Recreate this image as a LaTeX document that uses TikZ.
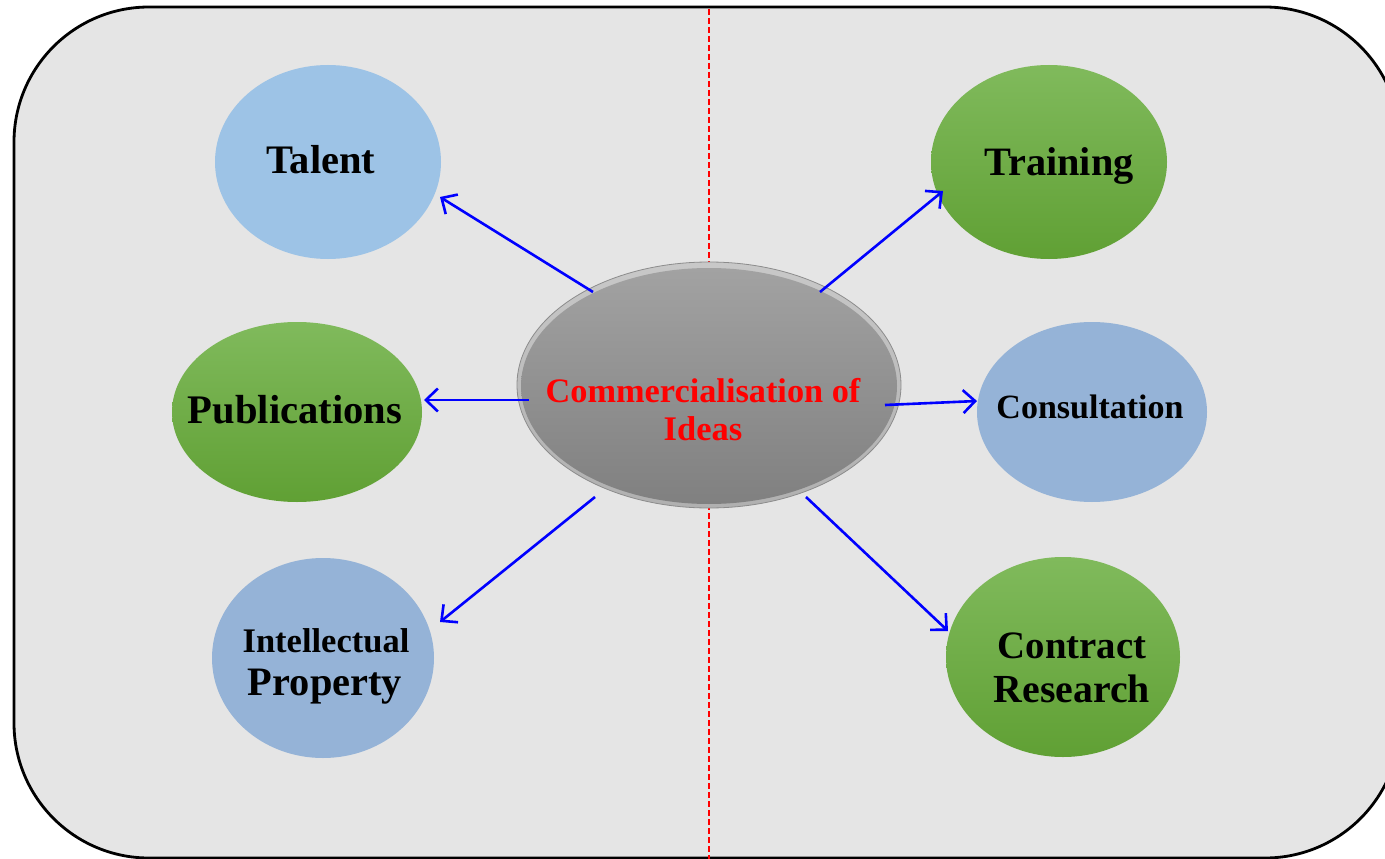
\documentclass[tikz,border=0pt]{standalone}
\usepackage{fontspec}
\setmainfont{Liberation Serif}
\usetikzlibrary{shapes.geometric,arrows.meta,calc}
\definecolor{bgc}{RGB}{229,229,229}
\definecolor{lblue}{RGB}{157,195,230}
\definecolor{mblue}{RGB}{149,179,215}
\definecolor{gtop}{RGB}{128,186,92}
\definecolor{gbot}{RGB}{96,160,52}
\definecolor{arrowblue}{RGB}{0,0,255}
\tikzset{
  oval/.style={ellipse, inner sep=0pt, draw=none},
  blueoval/.style={oval, fill=#1},
  greenoval/.style={oval, top color=gtop, bottom color=gbot},
  lbl/.style={anchor=base, inner sep=0pt, font=\bfseries\fontsize{#1}{#1}\selectfont},
  link/.style={draw=arrowblue, line width=2.6pt, -{Straight Barb[length=12pt,width=23pt,line width=2.6pt]}},
}
\begin{document}
\begin{tikzpicture}[x=1pt,y=-1pt]
\useasboundingbox (0,0) rectangle (1385,859);
% frame
\draw[fill=bgc, line width=2.8pt, rounded corners=135pt] (14,7) rectangle (1400,858);
% dashed divider
\draw[red, line width=2pt, dash pattern=on 6pt off 3pt] (709,9) -- (709,859);
% outer ellipses
\node[blueoval=lblue, minimum width=226pt, minimum height=194pt] (tal) at (328,162) {};
\node[greenoval, minimum width=236pt, minimum height=194pt] (trn) at (1049,162) {};
\node[greenoval, minimum width=250pt, minimum height=180pt] (pub) at (297,412) {};
\node[blueoval=mblue, minimum width=230pt, minimum height=180pt] (con) at (1092,412) {};
\node[blueoval=mblue, minimum width=222pt, minimum height=200pt] (ip) at (323,658) {};
\node[greenoval, minimum width=234pt, minimum height=200pt] (crs) at (1063,657) {};
% centre ellipse
\node[oval, minimum width=384pt, minimum height=246pt, draw={rgb,255:red,140;green,140;blue,140}, line width=0.8pt,
      top color={rgb,255:red,200;green,200;blue,200}, bottom color={rgb,255:red,176;green,176;blue,176}] (cen) at (709,385) {};
\node[oval, minimum width=376pt, minimum height=236pt,
      top color={rgb,255:red,162;green,162;blue,162}, bottom color={rgb,255:red,128;green,128;blue,128}] (ceninner) at (709,386) {};
% labels
\node[lbl=40.5] (taltx) at (321,173) {Talent};
\node[lbl=40.3] (trntx) at (1059,175) {Training};
\node[lbl=40.6] (pubtx) at (295,423) {Publications};
\node[lbl=34] (contx) at (1090,418) {Consultation};
\node[lbl=34.5] (iptx1) at (326,652) {Intellectual};
\node[lbl=40.4] (iptx2) at (325,695) {Property};
\node[lbl=38.8] (crstx1) at (1072,658) {Contract};
\node[lbl=39.8] (crstx2) at (1072,702) {Research};
\node[lbl=34.3, text=red] (centx1) at (703,402) {Commercialisation of};
\node[lbl=34.5, text=red] (centx2) at (703,440) {Ideas};
% connectors
\draw[link] ($(cen.center)+(-116,-93)$) -- ($(tal.center)+(112,35)$);
\draw[link] ($(cen.center)+(-180,15)$) -- ($(pub.center)+(127,-12)$);
\draw[link] ($(cen.center)+(-114,112)$) -- ($(ip.center)+(117,-36)$);
\draw[link] ($(cen.center)+(111,-93)$) -- ($(trn.center)+(-106,29)$);
\draw[link] ($(cen.center)+(176,20)$) -- ($(con.center)+(-115,-11)$);
\draw[link] ($(cen.center)+(97,112)$) -- ($(crs.center)+(-115,-26)$);
\end{tikzpicture}
\end{document}
